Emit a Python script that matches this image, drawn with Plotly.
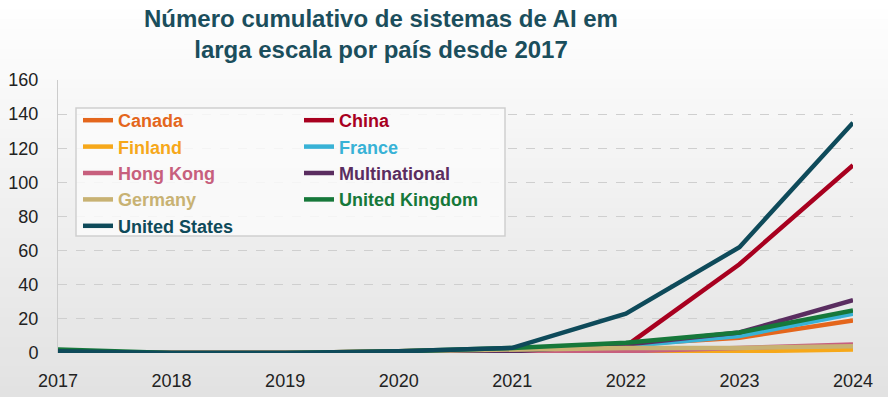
import plotly.graph_objects as go

years = [2017, 2018, 2019, 2020, 2021, 2022, 2023, 2024]

canada = [0, 0, 0, 1, 2, 5, 9, 19]
china = [0, 0, 0, 0, 0, 4, 52, 110]
finland = [0, 0, 0, 0, 1, 1, 1, 2]
france = [0, 0, 0, 0, 1, 4, 10, 23]
hong_kong = [0, 0, 0, 0, 0, 1, 3, 5]
multinational = [0, 0, 0, 0, 1, 5, 12, 31]
germany = [0, 0, 0, 1, 2, 3, 3, 4]
united_kingdom = [2, 0, 0, 1, 3, 6, 12, 25]
united_states = [1, 0, 0, 1, 3, 23, 62, 135]

series_names = ["Canada", "China", "Finland", "France", "Hong Kong",
                "Multinational", "Germany", "United Kingdom", "United States"]
series_values = [canada, china, finland, france, hong_kong,
                 multinational, germany, united_kingdom, united_states]
series_colors = ["#e4661c", "#a8001f", "#f6a81a", "#38b2d6", "#c75f7d",
                 "#5a2d60", "#c8b273", "#16783a", "#0e4a5a"]
legend_ids = ["legend", "legend2", "legend", "legend2", "legend",
              "legend2", "legend", "legend2", "legend"]

title_text = "Número cumulativo de sistemas de AI em<br>larga escala por país desde 2017"
y_ticks = [0, 20, 40, 60, 80, 100, 120, 140, 160]

fig = go.Figure()
for name, vals, col, lg in zip(series_names, series_values, series_colors, legend_ids):
    fig.add_trace(go.Scatter(
        x=years, y=vals, mode="lines",
        name=f"<b><span style='color:{col}'>{name}</span></b>",
        line=dict(color=col, width=4.5),
        legend=lg,
    ))

# background gradient (white top -> light gray bottom)
W, H = 888, 397
ml, mr, mt, mb = 58, 35, 80, 44
pw, ph = W - ml - mr, H - mt - mb
shapes = []
n = 40
for i in range(n):
    top_px = H * i / n
    bot_px = H * (i + 1) / n
    t = (i + 0.5) / n
    g = int(round(255 - (255 - 226) * t))
    shapes.append(dict(
        type="rect", xref="paper", yref="paper", layer="below",
        x0=-ml / pw, x1=1 + mr / pw,
        y0=(H - mb - bot_px) / ph, y1=(H - mb - top_px) / ph + 0.002,
        fillcolor=f"rgb({g},{g},{g})", line=dict(width=0),
    ))
# legend box
shapes.append(dict(
    type="rect", xref="paper", yref="paper", layer="above",
    x0=(76 - ml) / pw, x1=(505 - ml) / pw,
    y0=(H - mb - 236) / ph, y1=(H - mb - 108) / ph,
    fillcolor="rgba(250,250,250,0.85)", line=dict(color="#cfcfcf", width=1.5),
))

legend_font = dict(family="Liberation Sans, Arial, sans-serif", size=18, color="#333")
fig.update_layout(
    width=W, height=H,
    margin=dict(l=ml, r=mr, t=mt, b=mb, autoexpand=False),
    paper_bgcolor="#f0f0f0",
    plot_bgcolor="rgba(0,0,0,0)",
    shapes=shapes,
    title=dict(
        text=f"<b>{title_text}</b>",
        font=dict(family="Liberation Sans, Arial, sans-serif", size=24, color="#1b4e5c"),
        x=381 / W, xref="container", xanchor="center",
        y=1 - 27 / H, yref="container", yanchor="top",
    ),
    legend=dict(
        x=(78 - ml) / pw, y=(H - mb - 102) / ph, xanchor="left", yanchor="top",
        bgcolor="rgba(0,0,0,0)", borderwidth=0, font=legend_font,
        tracegroupgap=0, itemwidth=30,
    ),
    legend2=dict(
        x=(299 - ml) / pw, y=(H - mb - 102) / ph, xanchor="left", yanchor="top",
        bgcolor="rgba(0,0,0,0)", borderwidth=0, font=legend_font,
        tracegroupgap=0, itemwidth=30,
    ),
    font=dict(family="Liberation Sans, Arial, sans-serif", size=18, color="#222"),
    xaxis=dict(
        range=[2017, 2024], tickmode="array", tickvals=years,
        ticktext=[str(y) for y in years], automargin=False,
        showgrid=False, zeroline=False, showline=False,
        ticks="outside", ticklen=11, tickcolor="rgba(0,0,0,0)",
        tickfont=dict(size=18, color="#222"),
    ),
    yaxis=dict(
        range=[0, 160], tickmode="array", tickvals=y_ticks, automargin=False,
        showgrid=True, gridcolor="#cfcfcf", griddash="dash", gridwidth=1,
        zeroline=False, showline=True, linecolor="#cccccc", linewidth=1,
        ticks="outside", ticklen=15, tickcolor="rgba(0,0,0,0)",
        tickfont=dict(size=18, color="#222"),
    ),
)

fig.write_html(
    "out.html",
    config={"displayModeBar": False},
    post_script="document.body.style.margin='0';document.body.style.overflow='hidden';",
)
